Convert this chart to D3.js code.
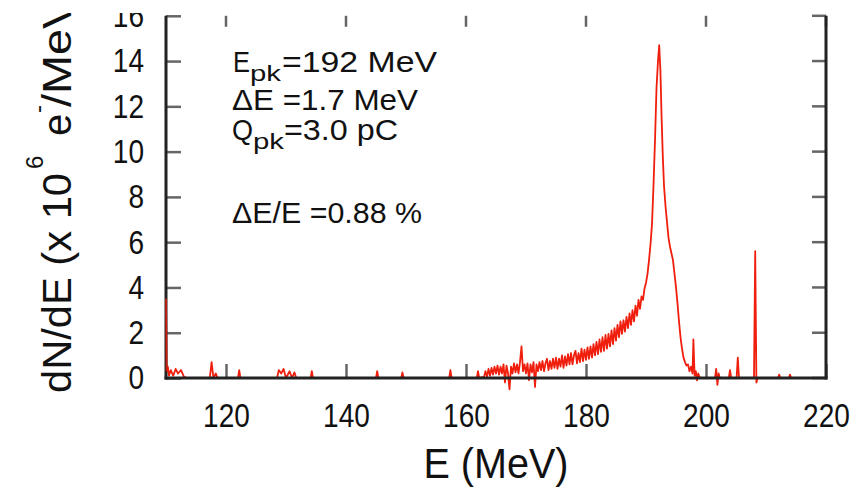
<!DOCTYPE html>
<html><head><meta charset="utf-8">
<script src="https://cdn.jsdelivr.net/npm/d3@7"></script>
<style>html,body{margin:0;padding:0;background:#fff;} svg{display:block;} text{font-family:"Liberation Sans",Arial,Helvetica,sans-serif;fill:#111;}</style>
</head><body><svg id="c" width="867" height="489"></svg>
<script>
// ---- data ----
const energy = [
110.0,110.1,110.3,110.5,110.8,111.2,111.6,112.0,112.5,113.0,113.5,
117.3,117.6,117.9,118.3,118.6,122.0,122.2,122.4,
128.5,128.8,129.2,129.6,130.0,130.6,131.0,131.4,131.7,
134.1,134.3,134.5,145.0,145.2,145.4,149.2,149.4,149.6,157.2,157.4,157.6,161.8,162.0,162.2,
163.0,163.25,163.5,163.75,164.0,164.25,164.5,164.75,165.0,165.25,165.5,165.75,
166.0,166.25,166.5,166.75,167.0,167.25,167.5,167.75,168.0,168.25,168.5,168.75,
169.0,169.25,169.5,169.75,170.0,170.25,170.5,170.75,171.0,171.25,171.5,171.75,
172.0,172.25,172.5,172.75,173.0,173.25,173.5,173.75,174.0,174.25,174.5,174.75,
175.0,175.25,175.5,175.75,176.0,176.25,176.5,176.75,177.0,177.25,177.5,177.75,
178.0,178.25,178.5,178.75,179.0,179.25,179.5,179.75,180.0,180.25,180.5,180.75,
181.0,181.25,181.5,181.75,182.0,182.25,182.5,182.75,183.0,183.25,183.5,183.75,
184.0,184.25,184.5,184.75,185.0,185.25,185.5,185.75,186.0,186.25,186.5,186.75,
187.0,187.25,187.5,187.75,188.0,188.25,188.5,188.75,189.0,189.25,189.5,189.75,
190.0,190.25,190.5,190.75,191.0,191.25,191.5,191.75,192.0,192.2,192.4,192.6,192.8,
193.0,193.25,193.5,193.75,194.0,194.25,194.5,194.75,195.0,195.25,195.5,195.75,
196.0,196.25,196.5,196.75,197.0,197.25,197.5,197.75,197.9,198.1,198.3,198.5,198.7,199.0,
201.5,201.7,201.9,202.1,202.3,203.8,204.0,204.2,205.1,205.3,205.5,
208.0,208.2,208.4,208.6,212.0,212.2,212.4,213.8,214.0,214.2,220.0
];
const dNdE = [
3.5,0.3,0.5,0.1,0.35,0.1,0.4,0.2,0.35,0.05,0,
0,0.7,0,0.2,0,0,0.35,0,
0,0.35,0.2,0.4,0,0.3,0,0.25,0,
0,0.3,0,0,0.3,0,0,0.25,0,0,0.35,0,0,0.3,0,
0.05,0.3,0.05,0.4,0.1,0.45,0.15,0.5,0.2,0.55,0.15,0.5,
0.2,0.6,-0.2,0.55,0.2,-0.5,0.5,0.2,0.65,0.25,0.6,0.2,
0.7,1.4,0.3,0.6,0.2,0.65,-0.1,0.6,0.25,0.7,-0.4,0.6,
0.3,0.7,0.35,0.75,0.3,0.65,0.85,0.35,0.75,0.4,0.85,0.45,
0.9,0.4,0.85,0.5,1.0,0.45,0.95,0.55,1.05,0.6,1.1,0.6,
1.0,1.2,0.65,1.1,0.7,1.3,0.75,1.25,0.8,1.35,0.85,1.4,
0.9,1.5,1.0,1.6,1.05,1.7,1.15,1.8,1.2,1.9,1.3,1.95,
1.4,2.1,1.5,2.2,1.65,2.35,1.8,2.5,1.95,2.55,2.05,2.7,
2.2,2.85,2.35,3.0,2.5,3.2,2.75,3.45,3.05,3.6,3.45,3.95,
4.2,4.6,5.2,5.9,6.8,8.5,10.5,12.8,14.0,14.7,13.6,11.5,9.8,
8.5,7.6,6.9,6.2,5.8,5.5,5.2,4.6,4.0,3.3,2.5,1.8,
1.3,0.9,0.7,0.55,0.6,0.3,0.5,0.2,1.7,0.1,0.3,-0.1,0.2,0,
0,0.4,-0.3,0.2,0,0,0.35,0,0,0.9,0,
0,5.6,-0.2,0,0,0.15,0,0,0.15,0,0
];
const xTicks = [120,140,160,180,200,220];
const yTicks = [0,2,4,6,8,10,12,14,16];
const xTitle = "E (MeV)";
const annot = ["E","pk","=192 MeV","\u0394E =1.7 MeV","Q","pk","=3.0 pC","\u0394E/E =0.88 %"];

// ---- drawing ----
const W = 867, H = 489;
const svg = d3.select('#c');
svg.append('rect').attr('width',W).attr('height',H).attr('fill','#fff');
const defs = svg.append('defs');
defs.append('clipPath').attr('id','crop').append('rect')
  .attr('x',0).attr('y',13).attr('width',W).attr('height',H-13);
defs.append('clipPath').attr('id','leftedge').append('rect')
  .attr('x',160).attr('y',0).attr('width',8).attr('height',376);
const g = svg.append('g').attr('clip-path','url(#crop)');

const x = d3.scaleLinear().domain([110,220]).range([166,826]);
const y = d3.scaleLinear().domain([0,16]).range([378,15.8]);

const pts = d3.zip(energy, dNdE);
const lineGen = d3.line().x(d=>x(d[0])).y(d=>y(d[1]));
const red = '#f01e0c';
// spectrum
g.append('path').datum(pts).attr('d', lineGen)
  .attr('fill','none').attr('stroke',red).attr('stroke-width',1.8)
  .attr('stroke-linejoin','round');

const tickCol = '#666', axisCol = '#222';
// bottom axis
const xa = g.append('g').attr('transform',`translate(0,${y(0)})`)
  .call(d3.axisBottom(x).tickValues(xTicks).tickSize(-14).tickSizeOuter(0).tickPadding(25).tickFormat(d3.format('d')));
xa.select('.domain').remove();
xa.selectAll('.tick line').attr('stroke',tickCol).attr('stroke-width',2.5);
xa.selectAll('.tick text').attr('font-size',34).attr('fill','#111')
  .attr('textLength',d=>String(d).length*15.6).attr('lengthAdjust','spacingAndGlyphs');

// left axis
const ya = g.append('g').attr('transform',`translate(${x(110)},0)`)
  .call(d3.axisLeft(y).tickValues(yTicks).tickSize(-15).tickSizeOuter(0).tickPadding(22).tickFormat(d3.format('d')));
ya.select('.domain').remove();
ya.selectAll('.tick line').attr('stroke',tickCol).attr('stroke-width',2.5);
ya.selectAll('.tick text').attr('font-size',34).attr('fill','#111')
  .attr('textLength',d=>String(d).length*15.6).attr('lengthAdjust','spacingAndGlyphs');

// top ticks
g.selectAll('.ttick').data(xTicks).join('line').attr('class','ttick')
  .attr('x1',d=>x(d)).attr('x2',d=>x(d)).attr('y1',y(16)).attr('y2',y(16)+11)
  .attr('stroke',tickCol).attr('stroke-width',2.5);
// right ticks
g.selectAll('.rtick').data(yTicks).join('line').attr('class','rtick')
  .attr('x1',x(220)-14).attr('x2',x(220)).attr('y1',d=>y(d)).attr('y2',d=>y(d))
  .attr('stroke',tickCol).attr('stroke-width',2.5);

// border lines
g.append('line').attr('x1',x(110)).attr('x2',x(110)).attr('y1',y(16)).attr('y2',y(0)+1.5).attr('stroke',axisCol).attr('stroke-width',3);
g.append('line').attr('x1',x(220)).attr('x2',x(220)).attr('y1',y(16)).attr('y2',y(0)+1.5).attr('stroke',axisCol).attr('stroke-width',3);
g.append('line').attr('x1',x(110)-1.5).attr('x2',x(220)+1.5).attr('y1',y(0)).attr('y2',y(0)).attr('stroke',axisCol).attr('stroke-width',3.2);

// red edge of the spectrum lying over the left axis
g.append('g').attr('clip-path','url(#leftedge)').append('path').datum(pts).attr('d', lineGen)
  .attr('fill','none').attr('stroke',red).attr('stroke-width',1.8).attr('opacity',0.8);

// x title
g.append('text').attr('x',(x(110)+x(220))/2).attr('y',478).attr('text-anchor','middle')
  .attr('font-size',42).attr('textLength',145).attr('lengthAdjust','spacingAndGlyphs').text(xTitle);

// y title (rotated)
const yt = g.append('g').attr('transform','translate(71,393) rotate(-90)');
yt.append('text').attr('x',0).attr('y',0).attr('font-size',40)
  .attr('textLength',220).attr('lengthAdjust','spacingAndGlyphs').text('dN/dE (x 10');
yt.append('text').attr('x',224).attr('y',-28).attr('font-size',24).text('6');
yt.append('text').attr('x',257).attr('y',0).attr('font-size',40).text('e');
yt.append('text').attr('x',280).attr('y',-25).attr('font-size',24).text('-');
yt.append('text').attr('x',286).attr('y',0).attr('font-size',40)
  .attr('textLength',125).attr('lengthAdjust','spacingAndGlyphs').text('/MeV)');

// annotations
const ann = g.append('g');
function piece(t, px, py, fs, len){
  const e = ann.append('text').attr('x',px).attr('y',py).attr('font-size',fs).attr('fill','#1a1a1a').text(t);
  if(len) e.attr('textLength',len).attr('lengthAdjust','spacingAndGlyphs');
  return e;
}
piece(annot[0],233,72,29,17);
piece(annot[1],250,81,22,31);
piece(annot[2],282,72,29,155);
piece(annot[3],232,110,29,186);
piece(annot[4],232,140,29,21);
piece(annot[5],253,149,22,31);
piece(annot[6],284,140,29,114);
piece(annot[7],232,223,29,190);
</script></body></html>
